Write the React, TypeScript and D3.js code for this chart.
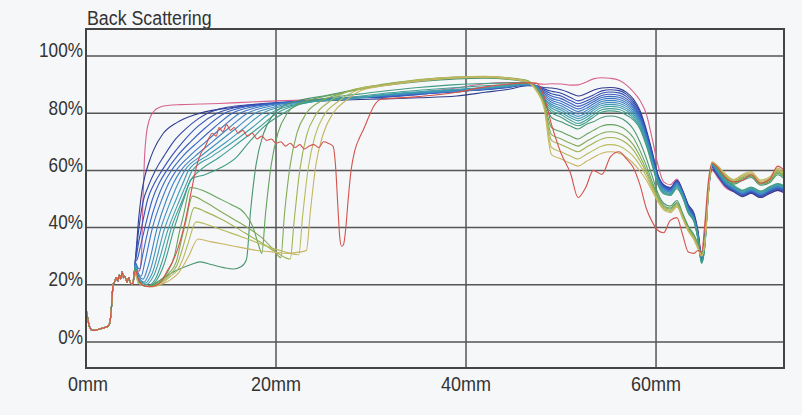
import React from "react";
import * as d3 from "d3";

type Pt = [number, number];

const xTicks = [0, 20, 40, 60];
const xTickLabels = ["0mm", "20mm", "40mm", "60mm"];
const yTicks = [0, 20, 40, 60, 80, 100];
const yTickLabels = ["0%", "20%", "40%", "60%", "80%", "100%"];
const titleText = "Back Scattering";

// shared x positions (mm) for the right-hand part of every scan
const rightX = [31, 35, 39, 42, 44.5, 46.5, 47.4, 48.2, 49, 50, 51, 51.8, 52.6, 53.4, 54.3, 55.2, 56.1, 56.9, 57.6, 58.3, 59, 59.6, 60.2, 60.8, 61.5, 62.2, 62.8, 63.4, 64, 64.4, 64.8, 65.15, 65.5, 65.9, 66.5, 67.3, 68.2, 69.1, 70, 71, 72, 72.8, 73.5];

// identical bottom section shared by all scans (mm, %)
const sharedStart: Pt[] = [[0, 11.5], [0.15, 9], [0.35, 5.5], [0.7, 4], [1.2, 4.3], [1.7, 4.8], [2.2, 5.3], [2.5, 6.5], [2.7, 13], [2.85, 20], [3.0, 21], [3.2, 22.5], [3.35, 21.3], [3.5, 23.5], [3.65, 22], [3.8, 24.5], [3.95, 22.5], [4.1, 23], [4.3, 21], [4.5, 22.5], [4.7, 20.5], [4.9, 20.3]];

const scan00Left: Pt[] = [[5.05, 22], [5.35, 24.5], [5.65, 25], [5.85, 31], [6.0, 50], [6.15, 64], [6.35, 72.5], [6.65, 77.5], [7.1, 80.5], [7.7, 82], [8.6, 82.7], [10, 83], [12, 83.2], [14, 83.4], [16, 83.7], [18, 84], [20, 84.3], [22, 84.5], [24, 84.8], [26, 85.2], [28, 85.6]];
const scan00Right = [86, 87.3, 88.8, 90.3, 90.7, 90.6, 90.4, 90.1, 90.3, 90.2, 89.8, 89.9, 90.8, 92, 92.4, 92.2, 91.5, 89.8, 87.5, 84.5, 79.5, 71, 62, 56, 55, 57, 53, 47.5, 44.5, 39, 31, 38, 52, 60, 57.5, 54, 52.5, 51, 52, 50.5, 52, 53, 52];

const scan01Left: Pt[] = [[5.05, 23], [5.2, 29], [5.35, 35], [5.5, 41.5], [5.7, 48], [5.9, 53], [6.2, 58], [6.6, 62.5], [7.1, 67], [8.1, 72.8], [9.6, 76.8], [11.3, 79.3], [13, 80.8], [15, 81.8], [17, 82.6], [19, 83.2], [21, 83.6], [23, 84], [25, 84.3], [28, 84.7]];
const scan01Right = [85, 85.4, 86, 87.3, 88.4, 89.6, 89.5, 89, 88.8, 88.2, 87, 86, 86.8, 88, 88.8, 89, 88.6, 87.3, 85, 81, 74, 66.5, 58.5, 55, 54, 56.5, 53, 48, 45, 39, 30, 37, 53, 60.5, 58, 54.5, 52.5, 50.8, 52, 50.5, 52, 53, 52.2];

const scan02Left: Pt[] = [[5.05, 23], [5.2, 28.5], [5.35, 33], [5.5, 38], [5.7, 43], [6.0, 49], [6.5, 54], [7.3, 60], [8.2, 65], [9.2, 70], [10.5, 74.5], [11.8, 78], [12.8, 80], [14.2, 81.6], [16, 82.6], [18, 83.2], [20, 83.7], [23, 84.3], [26, 85], [28.5, 85.4]];
const scan02Right = [85.6, 86.6, 87.6, 88.2, 89, 90, 89.6, 88.5, 87.7, 87, 85.5, 84.3, 85.2, 86.4, 87.8, 88.2, 87.9, 86.6, 84.2, 80.3, 73.5, 66, 58.2, 54.8, 53.8, 56.4, 52.8, 47.6, 44.2, 38.5, 29.5, 36.5, 53.2, 61, 58.3, 54.8, 52.8, 51.2, 52.3, 50.9, 52.4, 53.4, 52.6];

const scan03Left: Pt[] = [[5.05, 23], [5.2, 28.3], [5.35, 31], [5.55, 35], [5.85, 40], [6.5, 50], [7.2, 55.5], [8.0, 60], [9.0, 65], [10.2, 70], [11.8, 75.5], [13.8, 80], [15.5, 81.8], [17.5, 82.8], [20, 83.5], [23, 84.2], [26, 84.9], [28.5, 85.3]];
const scan03Right = [85.5, 86.8, 87.4, 88.5, 89.2, 90.2, 89.7, 88, 86.8, 86, 84.4, 83.3, 84.2, 85.5, 87, 87.4, 87.1, 85.8, 83.5, 79.6, 73, 65.5, 57.8, 54.5, 53.6, 56.2, 52.6, 47.3, 44, 38.2, 29.2, 36, 53, 61.2, 58.5, 55, 53, 51.4, 52.5, 51, 52.6, 53.6, 52.8];

const scan04Left: Pt[] = [[5.05, 23], [5.2, 28], [5.4, 29], [5.7, 33], [6.2, 40], [7.0, 50], [7.7, 55.5], [8.5, 60], [9.6, 65], [11, 70], [12.6, 75], [14.6, 80], [16.5, 82], [18.5, 83], [20.5, 83.6], [23, 84.2], [26, 85], [28.5, 85.5]];
const scan04Right = [85.8, 86.5, 87.8, 88.3, 89.4, 89.9, 89.5, 87.5, 86, 85.1, 83.5, 82.4, 83.3, 84.7, 86.2, 86.6, 86.3, 85, 82.8, 79, 72.4, 65, 57.5, 54.2, 53.3, 56, 52.4, 47, 43.8, 38, 29, 35.8, 52.8, 61.3, 58.6, 55.1, 53.1, 51.5, 52.6, 51.2, 52.8, 53.8, 53];

const scan05Left: Pt[] = [[5.05, 23], [5.2, 27.8], [5.45, 26], [5.65, 25.5], [6.0, 31], [6.6, 40], [7.5, 50], [8.2, 55.5], [9.0, 60], [10.2, 65], [11.8, 70], [13.5, 75], [15.4, 80], [17.2, 82], [19, 83], [21, 83.7], [24, 84.4], [27, 85.2], [29, 85.6]];
const scan05Right = [85.9, 87, 87.5, 88.6, 89.1, 90.3, 89.6, 87, 85.2, 84.2, 82.6, 81.5, 82.5, 84, 85.5, 85.9, 85.6, 84.3, 82.2, 78.5, 72, 64.6, 57.2, 54, 53, 55.8, 52.2, 46.8, 43.5, 37.8, 28.8, 35.5, 52.6, 61.5, 58.8, 55.3, 53.3, 51.7, 52.8, 51.4, 53, 54, 53.2];

const scan06Left: Pt[] = [[5.05, 23], [5.2, 27.5], [5.45, 24.5], [5.8, 23], [6.2, 28], [7.0, 40], [8.0, 50], [8.7, 55.5], [9.5, 60], [10.9, 65], [12.6, 70], [14.3, 75], [16.2, 80], [18, 82], [20, 83.2], [22, 83.8], [25, 84.6], [28, 85.3]];
const scan06Right = [86, 86.8, 87.9, 88.4, 89.5, 90.1, 89.3, 86.5, 84.5, 83.4, 81.7, 80.6, 81.6, 83.2, 84.8, 85.2, 84.9, 83.6, 81.6, 78, 71.5, 64.2, 56.9, 53.7, 52.8, 55.5, 52, 46.5, 43.2, 37.5, 28.6, 35.2, 52.4, 61.6, 59, 55.5, 53.5, 51.9, 53, 51.6, 53.2, 54.2, 53.4];

const scan07Left: Pt[] = [[5.05, 23], [5.2, 27.2], [5.5, 23.5], [6.0, 22], [6.5, 26], [7.5, 40], [8.5, 50], [9.2, 55.5], [10.0, 60], [11.5, 65], [13.3, 70], [15.1, 75], [17.0, 80], [18.8, 82], [20.8, 83.3], [23, 84], [26, 84.8], [29, 85.5]];
const scan07Right = [86.2, 87.2, 88.1, 88.8, 89.3, 90.4, 89.5, 86, 83.8, 82.6, 80.8, 79.7, 80.8, 82.4, 84.1, 84.5, 84.2, 83, 81, 77.4, 71, 63.8, 56.6, 53.4, 52.5, 55.2, 51.8, 46.2, 43, 37.3, 28.4, 35, 52.2, 61.8, 59.2, 55.7, 53.7, 52.1, 53.2, 51.8, 53.4, 54.4, 53.6];

const scan08Left: Pt[] = [[5.05, 23], [5.2, 27], [5.5, 23], [6.1, 21], [6.7, 24.5], [7.9, 40], [9.0, 50], [9.7, 55.5], [10.4, 60], [12.1, 65], [14, 70], [15.9, 75], [17.8, 80], [19.6, 82], [21.5, 83.4], [24, 84.2], [27, 85], [29.5, 85.7]];
const scan08Right = [86.1, 87.1, 87.7, 88.6, 89.6, 90, 89.2, 85.4, 83.1, 81.8, 80, 78.9, 80, 81.7, 83.4, 83.8, 83.5, 82.3, 80.4, 76.9, 70.5, 63.4, 56.3, 53.1, 52.3, 55, 51.5, 46, 42.8, 37, 28.2, 34.8, 52, 62, 59.4, 55.9, 53.9, 52.3, 53.4, 52, 53.6, 54.6, 53.8];

const scan09Left: Pt[] = [[5.05, 23], [5.2, 26.8], [5.5, 22.5], [6.2, 20.5], [6.9, 23.5], [8.3, 40], [9.5, 50], [10.2, 55.5], [10.8, 60], [12.7, 65], [14.8, 70], [16.7, 75], [18.6, 80], [20.4, 82.2], [22.3, 83.5], [25, 84.4], [28, 85.2]];
const scan09Right = [86.4, 87.4, 88.2, 88.9, 89.4, 90.2, 89.4, 85, 82.5, 81.1, 79.2, 78.1, 79.2, 81, 82.7, 83.1, 82.8, 81.6, 79.8, 76.3, 70, 63, 56, 52.8, 52, 54.7, 51.3, 45.8, 42.6, 36.8, 28, 34.5, 51.8, 62.1, 59.6, 56.1, 54.1, 52.5, 53.6, 52.2, 53.8, 54.8, 54];

const scan10Left: Pt[] = [[5.05, 23], [5.2, 26.5], [5.5, 22], [6.3, 20], [7.1, 23], [8.7, 40], [9.9, 50], [10.6, 55.5], [11.2, 60], [13.3, 65], [15.5, 70], [17.5, 75], [19.4, 80], [21.2, 82.3], [23, 83.6], [26, 84.6], [29, 85.4]];
const scan10Right = [86.3, 87.5, 88.4, 89, 89.7, 90.3, 89, 84.5, 81.8, 80.3, 78.4, 77.3, 78.4, 80.2, 82, 82.4, 82.1, 80.9, 79.1, 75.8, 69.5, 62.6, 55.7, 52.5, 51.8, 54.4, 51, 45.5, 42.4, 36.5, 27.8, 34.2, 51.6, 62.2, 59.8, 56.3, 54.3, 52.7, 53.8, 52.4, 54, 55, 54.2];

const scan11Left: Pt[] = [[5.05, 23], [5.2, 26], [5.5, 21.5], [6.4, 19.5], [7.3, 22], [8.0, 28], [9.0, 40], [10.2, 50], [11.0, 56.5], [12, 60], [14, 64.5], [16.2, 70], [18.2, 75], [20.1, 80], [21.8, 82.5], [23.8, 84], [26.5, 85.3], [29, 86]];
const scan11Right = [86.8, 88, 89, 89.6, 90, 90.5, 88.8, 84, 81, 79.5, 77.5, 76.4, 77.5, 79.4, 81.2, 81.6, 81.3, 80.1, 78.4, 75.2, 69, 62.2, 55.4, 52.2, 51.5, 54, 50.7, 45.2, 42.2, 36.3, 27.6, 34, 51.4, 62.3, 60, 56.5, 54.5, 52.9, 54, 52.6, 54.2, 55.2, 54.4];

const scan12Left: Pt[] = [[5.05, 23], [5.2, 25.8], [5.5, 21.3], [6.4, 19.4], [7.4, 21.5], [8.2, 27], [9.3, 40], [10.3, 50], [11.1, 57], [12.5, 58.5], [14.2, 61], [15.8, 64.5], [17.2, 70], [18.8, 75.5], [20.8, 80], [22.4, 83], [24.5, 84.8], [27, 86], [29.5, 87]];
const scan12Right = [87.6, 89, 90, 90.4, 90.6, 90.7, 88.5, 83.4, 80.2, 78.6, 76.6, 75.6, 76.7, 78.6, 80.4, 80.8, 80.5, 79.3, 77.7, 74.6, 68.4, 61.7, 55, 51.8, 51.2, 53.6, 50.4, 45, 42, 36, 27.5, 33.8, 51.2, 62.4, 60.2, 56.7, 54.7, 53.1, 54.2, 52.8, 54.4, 55.4, 54.6];

const scan13Left: Pt[] = [[5.05, 23], [5.2, 25.5], [5.5, 21.2], [6.5, 19.5], [7.2, 20.5], [8, 22], [9.5, 25], [11, 27], [12, 28], [13.3, 27], [14.5, 26], [15.5, 25.5], [16.4, 26.5], [16.9, 29], [17.3, 45], [17.9, 62], [18.7, 73], [19.6, 79], [20.8, 82.5], [22.5, 84.5], [25, 86], [28, 88]];
const scan13Right = [89.5, 91, 92, 92.2, 91.8, 90.8, 88.8, 84.5, 78.5, 77, 75.5, 74.5, 76, 77, 78.5, 79, 78.5, 77, 74.5, 70, 64, 58, 52, 48.5, 47.5, 49.5, 45, 40.5, 37.5, 34.5, 31, 36, 52.8, 62.2, 60.5, 57.2, 55.2, 56.5, 57.5, 54.8, 55.8, 58.5, 57];

const scan14Left: Pt[] = [[5.05, 23], [5.2, 25.3], [5.5, 21], [6.6, 19.5], [7.6, 21], [8.5, 24], [9.3, 30], [9.8, 38], [10.3, 45], [11, 54], [12.3, 53], [13.8, 50.5], [15.3, 48], [16.7, 45], [17.6, 40], [18.2, 33.5], [18.5, 31], [18.9, 45], [19.5, 62], [20.2, 73], [21.2, 80], [22.5, 83.5], [24, 85], [26.5, 86.8], [29, 88.5]];
const scan14Right = [89.8, 91.4, 92.4, 92.6, 92.2, 91.2, 88.6, 84, 75, 73.5, 72, 71, 72.5, 74, 75.5, 76, 75.5, 74, 71.5, 67, 61.5, 56, 51, 47.8, 46.8, 48.8, 44.5, 40, 37, 34, 30.8, 35.8, 52.6, 62.4, 60.8, 57.6, 55.6, 57, 58, 55.2, 56.2, 59, 57.6];

const scan15Left: Pt[] = [[5.05, 23], [5.2, 25], [5.5, 21], [6.7, 19.4], [7.8, 21], [8.7, 24], [9.5, 28], [10, 35], [10.5, 42], [11.2, 51], [12.5, 49], [14, 46], [15.5, 43], [17, 40], [18.5, 36.5], [19.8, 32], [20.5, 29.5], [20.9, 45], [21.5, 62], [22.2, 73], [23.2, 80], [24.6, 84], [26.5, 86.5], [29, 88.8]];
const scan15Right = [90, 91.6, 92.6, 92.8, 92.4, 91.4, 88.4, 83.5, 72.5, 71, 69.5, 68.5, 70, 71.5, 73, 73.5, 73, 71.5, 69, 65, 60, 55, 50.5, 47.4, 46.4, 48.4, 44.2, 39.6, 36.7, 33.6, 30.6, 35.5, 52.5, 62.5, 61, 57.9, 55.9, 57.4, 58.4, 55.5, 56.6, 59.4, 58];

const scan16Left: Pt[] = [[5.05, 23], [5.2, 24.8], [5.5, 20.8], [6.8, 19.3], [7.9, 20.8], [8.8, 23.5], [9.6, 27], [10.1, 32], [10.6, 38], [11.4, 47], [12.6, 45.5], [14.2, 43], [15.8, 40], [17.3, 37], [18.8, 34], [20.2, 31], [21.5, 29], [21.9, 42], [22.5, 60], [23.2, 72], [24.2, 79.5], [25.6, 84], [27.5, 87.5], [29.5, 89.2]];
const scan16Right = [89.8, 91.8, 92.5, 92.5, 92, 91.2, 88.2, 83, 70.5, 69, 67.5, 66.5, 68, 69.5, 71, 71.5, 71, 69.5, 67.2, 63.5, 59, 54.3, 50, 47, 46, 48, 43.8, 39.3, 36.4, 33.4, 30.4, 35.2, 52.3, 62.6, 61.2, 58.2, 56.2, 57.8, 58.8, 55.8, 57, 59.8, 58.4];

const scan17Left: Pt[] = [[5.05, 23], [5.2, 24.6], [5.5, 20.6], [6.9, 19.3], [8, 20.5], [8.9, 23], [9.6, 25], [10.2, 29], [10.7, 34], [11.6, 42], [12.8, 41], [14.5, 39], [16.2, 37], [17.8, 35], [19.4, 33], [21, 31.5], [22.4, 30.5], [22.8, 44], [23.4, 61], [24.1, 72], [25.1, 79.5], [26.5, 84], [28.5, 88], [29.8, 89.3]];
const scan17Right = [89.6, 91.5, 92.7, 92.9, 92.3, 91, 88, 82.5, 68, 66.5, 65, 64, 65.5, 67, 68.5, 69, 68.5, 67, 65, 61.8, 57.8, 53.5, 49.4, 46.6, 45.6, 47.6, 43.5, 39, 36, 33, 30.2, 35, 52.2, 62.8, 61.4, 58.5, 56.5, 58.2, 59.2, 56.2, 57.4, 60.2, 58.8];

const scan18Left: Pt[] = [[5.05, 23], [5.2, 24.4], [5.5, 20.5], [7, 19.3], [8.2, 20.5], [9, 22], [9.7, 24], [10.3, 27], [10.8, 30], [11.8, 36], [13.2, 35], [14.8, 34], [16.4, 33], [18, 32], [19.6, 31.5], [21.2, 31], [22.6, 31.5], [23.2, 32], [23.6, 45], [24.2, 62], [25, 73], [26, 80], [27.4, 84.5], [29, 88]];
const scan18Right = [89.4, 91.2, 92.3, 92.6, 92.1, 90.8, 87.8, 82, 65.5, 64, 62.5, 61.5, 63, 64.5, 66, 66.5, 66, 64.5, 62.5, 59.8, 56.5, 52.8, 49, 46.2, 45.2, 47.2, 43.2, 38.7, 35.7, 32.7, 30, 34.8, 52, 63, 61.6, 58.8, 56.8, 58.6, 59.6, 56.6, 57.8, 60.8, 59.2];

const scan19Left: Pt[] = [[5.05, 23], [5.2, 25], [5.5, 22], [6.0, 19.8], [6.7, 19.3], [7.5, 20], [8.0, 21.5], [8.5, 24.6], [9.1, 28], [9.7, 33], [10.4, 41.6], [11.1, 53], [11.6, 61], [12.1, 66], [12.5, 68], [12.9, 71], [13.3, 73], [13.7, 72], [14.0, 75], [14.4, 73.5], [14.8, 76], [15.2, 74], [15.6, 75], [16.0, 73], [16.5, 74], [17, 72], [17.5, 73], [18, 71], [18.5, 72], [19, 70.5], [19.5, 71], [20, 69.5], [20.5, 70], [21, 68.5], [21.5, 69.5], [22, 68], [22.5, 69], [23, 67.5], [23.5, 68.5], [24, 69], [24.5, 68], [25, 70], [25.5, 69.5], [26, 68.5], [26.3, 60], [26.5, 48], [26.7, 37], [26.9, 33.5], [27.1, 34], [27.35, 40], [27.6, 50], [27.9, 60], [28.3, 67], [28.8, 71.5], [29.3, 75], [29.8, 79], [30.3, 82.5]];
const scan19Right = [84.8, 85.8, 87.3, 89.2, 90.2, 90.6, 90.5, 86, 76, 66, 59, 50.5, 54, 60, 58.6, 64.7, 66.5, 64, 61, 55, 46.5, 42, 39, 38.2, 42.5, 43.5, 37.5, 31.5, 31, 32, 31.5, 42, 56, 62.5, 61, 57.5, 56, 56.5, 58.5, 55.5, 57, 61.5, 60];

const scanColors = ["#d8628e", "#2f3d8e", "#3346a6", "#3551b4", "#375dbe", "#3969c4", "#3b76c6", "#3d83c4", "#3f8fbe", "#4099b6", "#40a0aa", "#3f9e96", "#419c82", "#4a9670", "#62a25c", "#84aa56", "#a0b354", "#b8ba5c", "#c8b462", "#d4524c"];
const scanLefts = [scan00Left, scan01Left, scan02Left, scan03Left, scan04Left, scan05Left, scan06Left, scan07Left, scan08Left, scan09Left, scan10Left, scan11Left, scan12Left, scan13Left, scan14Left, scan15Left, scan16Left, scan17Left, scan18Left, scan19Left];
const scanRights = [scan00Right, scan01Right, scan02Right, scan03Right, scan04Right, scan05Right, scan06Right, scan07Right, scan08Right, scan09Right, scan10Right, scan11Right, scan12Right, scan13Right, scan14Right, scan15Right, scan16Right, scan17Right, scan18Right, scan19Right];

export default function App() {
  const W = 802;
  const H = 415;
  const x = d3.scaleLinear().domain([0, 73.47]).range([86, 784]);
  const y = d3.scaleLinear().domain([-9.09, 109.44]).range([368, 29]);
  const line = d3
    .line<Pt>()
    .x((d) => x(d[0]))
    .y((d) => y(d[1]))
    .curve(d3.curveMonotoneX);

  const series: Pt[][] = scanLefts.map((left, i) => {
    const right = scanRights[i];
    const n = Math.min(right.length, rightX.length);
    const rp: Pt[] = [];
    for (let j = 0; j < n; j++) rp.push([rightX[j], right[j]]);
    return [...sharedStart, ...left, ...rp];
  });

  const [x0, x1] = x.range();
  const [yb, yt] = y.range();
  const font = "'Liberation Sans', Arial, Helvetica, sans-serif";

  return (
    <svg
      width={W}
      height={H}
      viewBox={`0 0 ${W} ${H}`}
      style={{ position: "absolute", left: 0, top: 0, display: "block" }}
    >
      <rect x={0} y={0} width={W} height={H} fill="#f6f7f9" />
      <text
        transform={`translate(87,25) scale(0.89,1)`}
        fontFamily={font}
        fontSize={20}
        fill="#333"
      >
        {titleText}
      </text>
      {yTicks.map((v) => (
        <line key={"gy" + v} x1={x0} x2={x1} y1={y(v)} y2={y(v)} stroke="#555" strokeWidth={1.5} />
      ))}
      {xTicks.slice(1).map((v) => (
        <line key={"gx" + v} x1={x(v)} x2={x(v)} y1={yt} y2={yb} stroke="#555" strokeWidth={1.5} />
      ))}
      <g fill="none" strokeWidth={1.1} strokeLinejoin="round">
        {series.map((s, i) => (
          <path key={i} d={line(s) || ""} stroke={scanColors[i]} />
        ))}
      </g>
      <rect x={x0} y={yt} width={x1 - x0} height={yb - yt} fill="none" stroke="#444" strokeWidth={2} />
      {yTicks.map((v, i) => (
        <text
          key={"ty" + v}
          transform={`translate(83,${y(v) + 1.5}) scale(0.86,1)`}
          textAnchor="end"
          fontFamily={font}
          fontSize={20}
          fill="#333"
        >
          {yTickLabels[i]}
        </text>
      ))}
      {xTicks.map((v, i) => (
        <text
          key={"tx" + v}
          transform={`translate(${x(v) + (v === 0 ? 2 : 0)},391) scale(0.9,1)`}
          textAnchor="middle"
          fontFamily={font}
          fontSize={20}
          fill="#333"
        >
          {xTickLabels[i]}
        </text>
      ))}
    </svg>
  );
}
